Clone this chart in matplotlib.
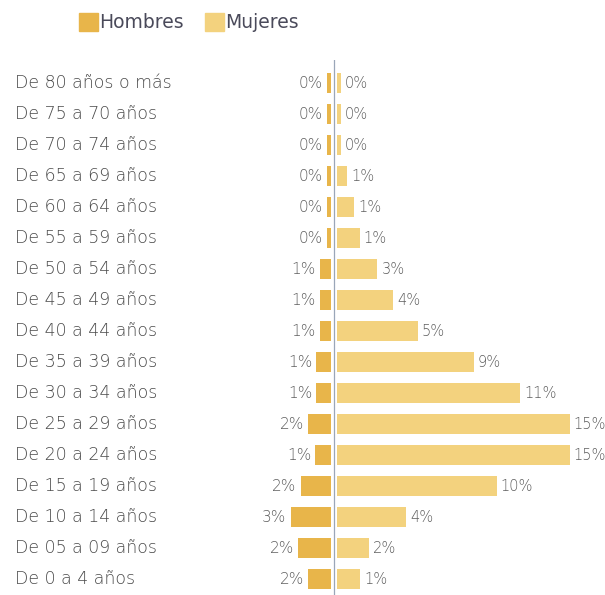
import matplotlib.pyplot as plt
import matplotlib.transforms as mtransforms
from matplotlib.patches import Patch

# ---------------------------
# DATOS
# ---------------------------
grupos = [
    "De 80 años o más", "De 75 a 70 años", "De 70 a 74 años", "De 65 a 69 años",
    "De 60 a 64 años", "De 55 a 59 años", "De 50 a 54 años", "De 45 a 49 años",
    "De 40 a 44 años", "De 35 a 39 años", "De 30 a 34 años", "De 25 a 29 años",
    "De 20 a 24 años", "De 15 a 19 años", "De 10 a 14 años", "De 05 a 09 años",
    "De 0 a 4 años",
]
hombres = [0.24, 0.24, 0.24, 0.24, 0.24, 0.24, 0.71, 0.71, 0.71, 0.94, 0.94,
           1.46, 1.0, 1.94, 2.6, 2.1, 1.48]
mujeres = [0.24, 0.24, 0.24, 0.65, 1.1, 1.46, 2.6, 3.6, 5.2, 8.8, 11.8,
           15.0, 15.0, 10.3, 4.45, 2.06, 1.48]
etiq_h = ["0%", "0%", "0%", "0%", "0%", "0%", "1%", "1%", "1%", "1%", "1%",
          "2%", "1%", "2%", "3%", "2%", "2%"]
etiq_m = ["0%", "0%", "0%", "1%", "1%", "1%", "3%", "4%", "5%", "9%", "11%",
          "15%", "15%", "10%", "4%", "2%", "1%"]

col_h = "#E8B54A"
col_m = "#F3D27E"
gris = "#5e5e5e"

plt.rcParams["font.family"] = ["DejaVu Sans"]

fig = plt.figure(figsize=(6.05, 5.95), dpi=100)
W, H = 605, 595
ax = fig.add_axes([250 / W, 0, 355 / W, 535 / H])

y = list(range(len(grupos)))
hueco = 0.2  # separacion a cada lado de la linea central

ax.barh(y, [-v for v in hombres], left=-hueco, height=0.66, color=col_h)
ax.barh(y, mujeres, left=hueco, height=0.66, color=col_m)

ax.axvline(0, color="#9aa6b8", linewidth=0.9)

for i in y:
    ax.annotate(etiq_h[i], (-hueco - hombres[i], i), xytext=(-3, 0),
                textcoords="offset points", ha="right", va="center",
                fontsize=11, color=gris, fontweight="light")
    ax.annotate(etiq_m[i], (hueco + mujeres[i], i), xytext=(3, 0),
                textcoords="offset points", ha="left", va="center",
                fontsize=10.5, color=gris, fontweight="light")

trans = mtransforms.blended_transform_factory(fig.transFigure, ax.transData)
for i, g in enumerate(grupos):
    ax.text(15 / W, i, g, transform=trans, ha="left", va="center",
            fontsize=12.5, color="#4a4a4a", fontweight="light")

ax.set_xlim(-84 / 15.5, 271 / 15.5)
ax.set_ylim(16.51, -0.75)
ax.axis("off")

handles = [Patch(color=col_h, label="Hombres"), Patch(color=col_m, label="Mujeres")]
fig.legend(handles=handles, loc="upper left", bbox_to_anchor=(62 / W, 1 + 4 / H),
           ncol=2, frameon=False, fontsize=13.5, handlelength=1.0,
           handleheight=1.1, handletextpad=0.1, columnspacing=1.1,
           labelcolor="#4a4a5a")

plt.savefig("out.png", dpi=100)
